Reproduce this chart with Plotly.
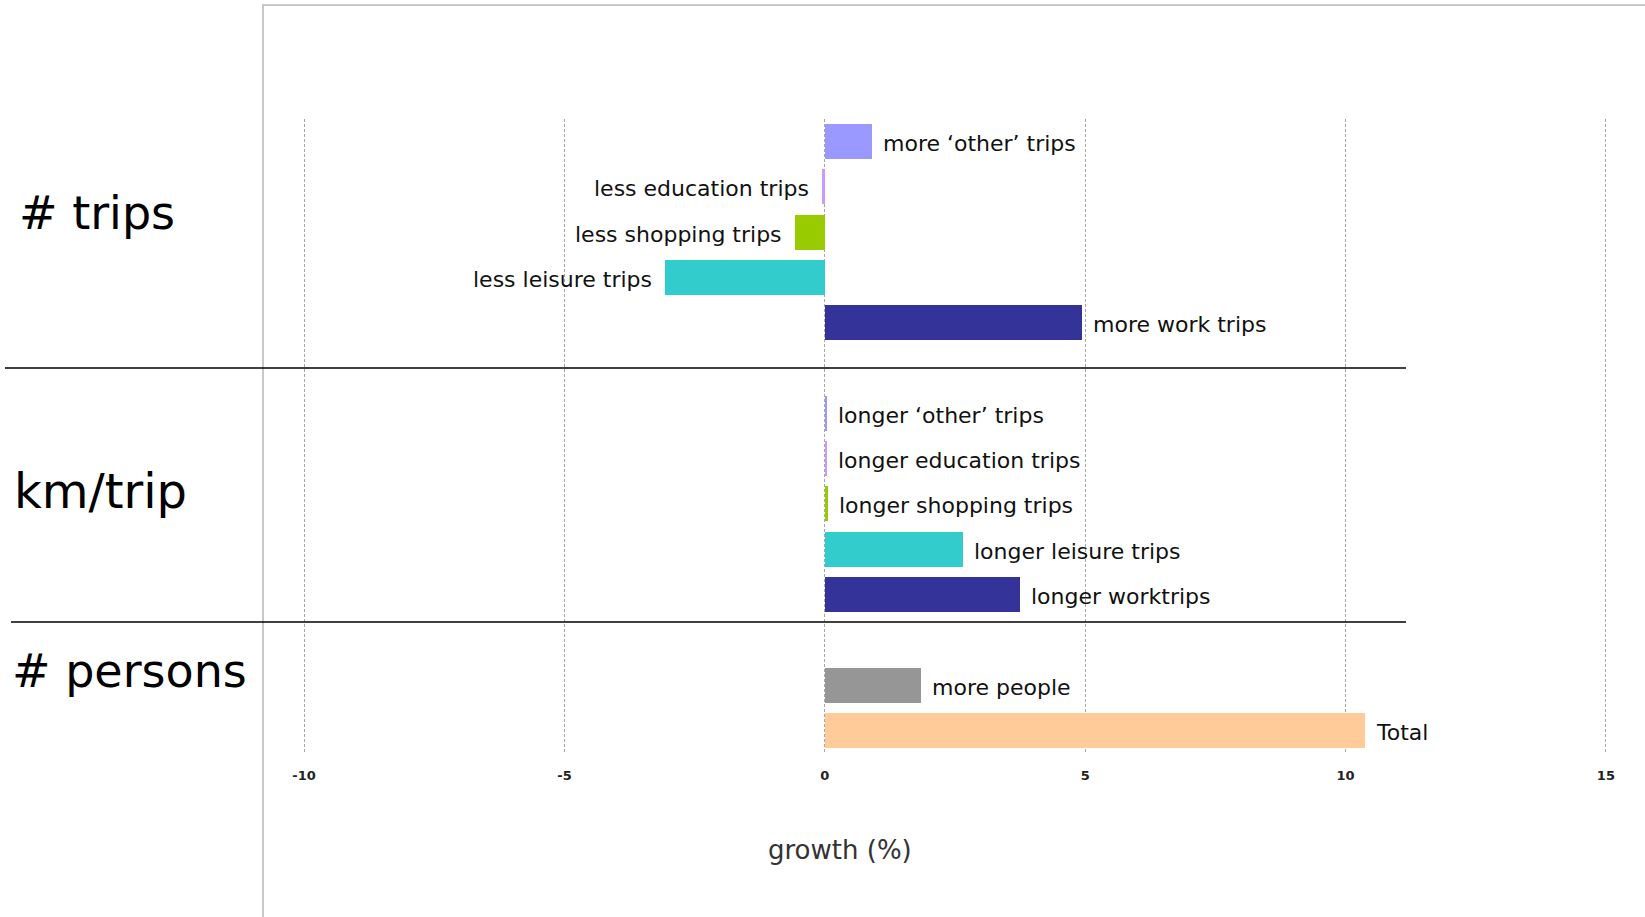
import plotly.graph_objects as go

# Growth decomposition (%), one block per driver
group_names = ["# trips", "km/trip", "# persons"]

trip_labels = ["more ‘other’ trips", "less education trips", "less shopping trips",
               "less leisure trips", "more work trips"]
trip_values = [0.90, -0.06, -0.58, -3.07, 4.94]
trip_colors = ["#9999FF", "#CC99FF", "#99CC00", "#33CCCC", "#333399"]

km_labels = ["longer ‘other’ trips", "longer education trips", "longer shopping trips",
             "longer leisure trips", "longer worktrips"]
km_values = [0.05, 0.05, 0.06, 2.66, 3.75]
km_colors = ["#9999FF", "#CC99FF", "#99CC00", "#33CCCC", "#333399"]

person_labels = ["more people", "Total"]
person_values = [1.85, 10.38]
person_colors = ["#969696", "#FFCC99"]

x_ticks = [-10, -5, 0, 5, 10, 15]

W, H = 1645, 917
PL, PR, PT, PB = 302, 1608, 119, 753  # plot area in pixels
PAD = 0.04  # small range padding so the outer grid lines stay visible


def px_x(p):
    return (p - PL) / (PR - PL)


def px_y(p):
    return (PB - p) / (PB - PT)


groups = [(trip_labels, trip_values, trip_colors),
          (km_labels, km_values, km_colors),
          (person_labels, person_values, person_colors)]

# one slot per bar, one empty slot between blocks
labels, values, colors, slots = [], [], [], []
pos = 0
for gi, (g_labels, g_values, g_colors) in enumerate(groups):
    if gi > 0:
        pos += 1
    for lab, val, col in zip(g_labels, g_values, g_colors):
        labels.append(lab)
        values.append(val)
        colors.append(col)
        slots.append(pos)
        pos += 1
last_slot = max(slots)

fig = go.Figure(go.Bar(
    x=values, y=slots, orientation="h",
    marker=dict(color=colors, line=dict(width=0)),
    width=0.77, hoverinfo="skip",
))

label_font = dict(family="DejaVu Sans", size=22, color="#111111")
annotations = []
for lab, val, s in zip(labels, values, slots):
    right = val >= 0
    annotations.append(dict(
        x=val, y=s, xref="x", yref="y", text=lab, showarrow=False,
        xanchor="left" if right else "right", yanchor="middle",
        xshift=9 if right else -11, yshift=-2, font=label_font,
    ))

# block names on the left
group_pos = [(17, 213), (12, 491), (10, 671)]
group_sizes = [46, 48, 46]
for name, (gx, gy), fs in zip(group_names, group_pos, group_sizes):
    annotations.append(dict(
        x=px_x(gx), y=px_y(gy), xref="paper", yref="paper", text=name,
        showarrow=False, xanchor="left", yanchor="middle",
        font=dict(family="DejaVu Sans", size=fs, color="#000000"),
    ))

# axis title
annotations.append(dict(
    x=px_x(840), y=px_y(850), xref="paper", yref="paper", text="growth (%)",
    showarrow=False, xanchor="center", yanchor="middle",
    font=dict(family="DejaVu Sans", size=26, color="#333333"),
))

shapes = [
    # outer chart frame
    dict(type="rect", xref="paper", yref="paper",
         x0=px_x(263), x1=px_x(W + 20), y0=px_y(H + 20), y1=px_y(5),
         line=dict(color="#c8c8c8", width=2), fillcolor="rgba(0,0,0,0)", layer="below"),
    # block separators
    dict(type="line", xref="paper", yref="paper",
         x0=px_x(5), x1=px_x(1406), y0=px_y(368), y1=px_y(368),
         line=dict(color="#000000", width=1.5)),
    dict(type="line", xref="paper", yref="paper",
         x0=px_x(11), x1=px_x(1406), y0=px_y(622), y1=px_y(622),
         line=dict(color="#000000", width=1.5)),
]

fig.update_layout(
    width=W, height=H,
    margin=dict(l=PL, r=W - PR, t=PT, b=H - PB, pad=0),
    paper_bgcolor="white", plot_bgcolor="white",
    showlegend=False, bargap=0,
    annotations=annotations, shapes=shapes,
    xaxis=dict(
        range=[x_ticks[0] - PAD, x_ticks[-1] + PAD], tickmode="array", tickvals=x_ticks,
        ticktext=[str(t) for t in x_ticks],
        showgrid=True, gridcolor="#a6a6a6", gridwidth=1, griddash="3px,2px",
        zeroline=False, showline=False, ticks="",
        tickfont=dict(family="DejaVu Sans", size=13, color="#222222", weight="bold"),
        ticklabelstandoff=13, fixedrange=True,
    ),
    yaxis=dict(
        range=[last_slot + 0.5, -0.5], showticklabels=False, showgrid=False,
        zeroline=False, showline=False, ticks="", fixedrange=True,
    ),
)

fig.write_html("out.html", config={"displayModeBar": False})
